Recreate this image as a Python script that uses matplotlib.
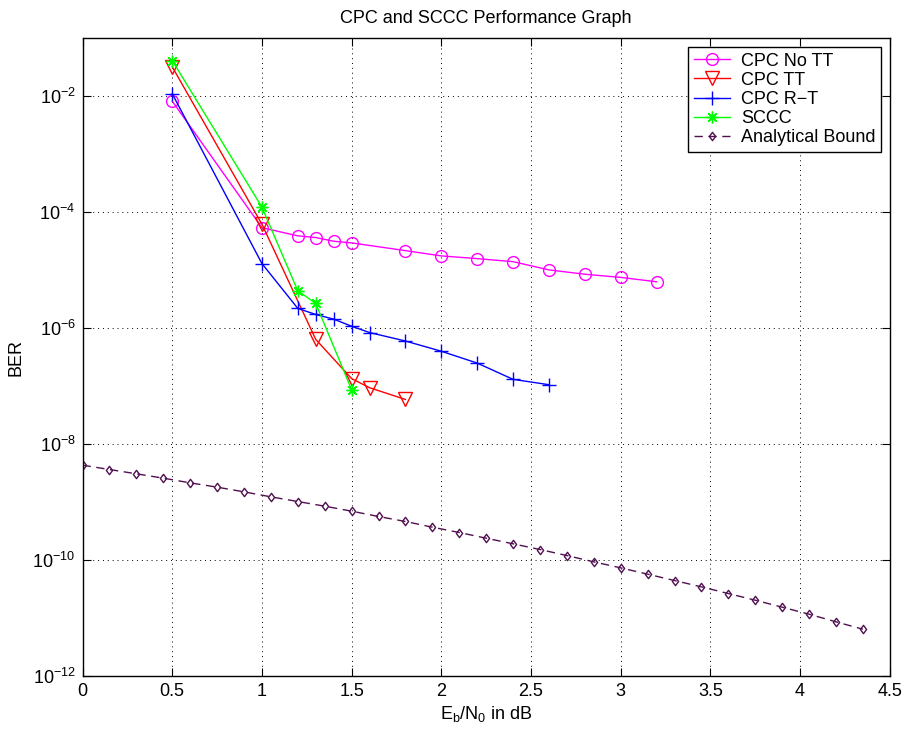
import matplotlib
matplotlib.use("Agg")
import matplotlib.pyplot as plt
from matplotlib.path import Path
import numpy as np

plt.rcParams['font.family'] = ['Liberation Sans', 'DejaVu Sans']
plt.rcParams['mathtext.fontset'] = 'custom'
plt.rcParams['mathtext.rm'] = 'Liberation Sans'
plt.rcParams['mathtext.it'] = 'Liberation Sans'

# Data
x_nott = [0.5, 1.0, 1.2, 1.3, 1.4, 1.5, 1.8, 2.0, 2.2, 2.4, 2.6, 2.8, 3.0, 3.2]
y_nott = [8.2e-3, 5.4e-5, 3.9e-5, 3.65e-5, 3.15e-5, 2.95e-5, 2.17e-5, 1.76e-5,
          1.58e-5, 1.40e-5, 1.01e-5, 8.5e-6, 7.5e-6, 6.3e-6]

x_tt = [0.5, 1.0, 1.3, 1.5, 1.6, 1.8]
y_tt = [3.2e-2, 6.2e-5, 6.4e-7, 1.35e-7, 9.4e-8, 5.9e-8]

x_rt = [0.5, 1.0, 1.2, 1.3, 1.4, 1.5, 1.6, 1.8, 2.0, 2.2, 2.4, 2.6]
y_rt = [1.1e-2, 1.3e-5, 2.19e-6, 1.72e-6, 1.43e-6, 1.08e-6, 8.4e-7, 6.0e-7,
        4.0e-7, 2.5e-7, 1.31e-7, 1.06e-7]

x_sccc = [0.5, 1.0, 1.2, 1.3, 1.5]
y_sccc = [4.1e-2, 1.22e-4, 4.4e-6, 2.67e-6, 8.7e-8]

x_bound = [0.0, 0.15, 0.3, 0.45, 0.6, 0.75, 0.9, 1.05, 1.2, 1.35, 1.5, 1.65,
           1.8, 1.95, 2.1, 2.25, 2.4, 2.55, 2.7, 2.85, 3.0, 3.15, 3.3, 3.45,
           3.6, 3.75, 3.9, 4.05, 4.2, 4.35]
log_bound = [-8.362, -8.437, -8.511, -8.586, -8.667, -8.741, -8.822, -8.908,
             -8.989, -9.069, -9.155, -9.247, -9.333, -9.431, -9.523, -9.621,
             -9.718, -9.816, -9.920, -10.029, -10.132, -10.241, -10.351,
             -10.460, -10.575, -10.690, -10.810, -10.931, -11.063, -11.190]
y_bound = [10.0 ** v for v in log_bound]

y_ticks = [1e-12, 1e-10, 1e-8, 1e-6, 1e-4, 1e-2]
y_ticklabels = [r'$10^{-12}$', r'$10^{-10}$', r'$10^{-8}$', r'$10^{-6}$',
                r'$10^{-4}$', r'$10^{-2}$']
x_ticks = [0, 0.5, 1, 1.5, 2, 2.5, 3, 3.5, 4, 4.5]
x_ticklabels = ['0', '0.5', '1', '1.5', '2', '2.5', '3', '3.5', '4', '4.5']

diamond = Path([(0, 1), (0.75, 0), (0, -1), (-0.75, 0), (0, 1)],
               [Path.MOVETO, Path.LINETO, Path.LINETO, Path.LINETO,
                Path.CLOSEPOLY])

fig = plt.figure(figsize=(9.07, 7.33), dpi=100)
ax = fig.add_axes([0.091, 0.0775, 0.890, 0.8705])

lw = 1.0
ax.semilogy(x_nott, y_nott, '-o', color='#ff00ff', lw=lw, ms=8.5,
            mfc='none', mec='#ff00ff', mew=1.0, label='CPC No TT')
ax.semilogy(x_tt, y_tt, '-v', color='#ff0000', lw=lw, ms=9.5,
            mfc='none', mec='#ff0000', mew=1.0, label='CPC TT')
ax.semilogy(x_rt, y_rt, '-+', color='#0000ff', lw=lw, ms=10,
            mew=1.0, label='CPC R\u2212T')
ax.semilogy(x_sccc, y_sccc, '-', marker=(8, 2, 0), color='#00ff00', lw=lw,
            ms=8.5, mec='#00ff00', mew=1.0, label='SCCC')
ax.semilogy(x_bound, y_bound, '--', marker=diamond, color='#501050', lw=lw,
            ms=6, mfc='none', mec='#501050', mew=1.0, dashes=(6, 4),
            label='Analytical Bound')

ax.set_xlim(0, 4.5)
ax.set_ylim(1e-12, 1e-1)
ax.set_xticks(x_ticks)
ax.set_xticklabels(x_ticklabels)
ax.set_yticks(y_ticks)
ax.set_yticklabels(y_ticklabels)
ax.yaxis.set_minor_locator(matplotlib.ticker.NullLocator())
ax.tick_params(direction='in', top=True, right=True, length=6, width=0.8,
               labelsize=13, pad=5)
ax.grid(True, which='major', color='black', linestyle=(0, (1, 4)), lw=0.7)
for s in ax.spines.values():
    s.set_linewidth(1.0)

ax.set_title('CPC and SCCC Performance Graph', fontsize=13, pad=11)
ax.set_xlabel(r'E$_\mathrm{b}$/N$_\mathrm{0}$ in dB', fontsize=13, labelpad=3)
ax.set_ylabel('BER', fontsize=13, labelpad=6)

leg = ax.legend(loc='upper right', fontsize=13, fancybox=False,
                edgecolor='black', framealpha=1, borderaxespad=0.5,
                handlelength=2.0, labelspacing=0.12, borderpad=0.3,
                handletextpad=0.6)
leg.get_frame().set_linewidth(1.0)

fig.savefig('out.png', dpi=100)
